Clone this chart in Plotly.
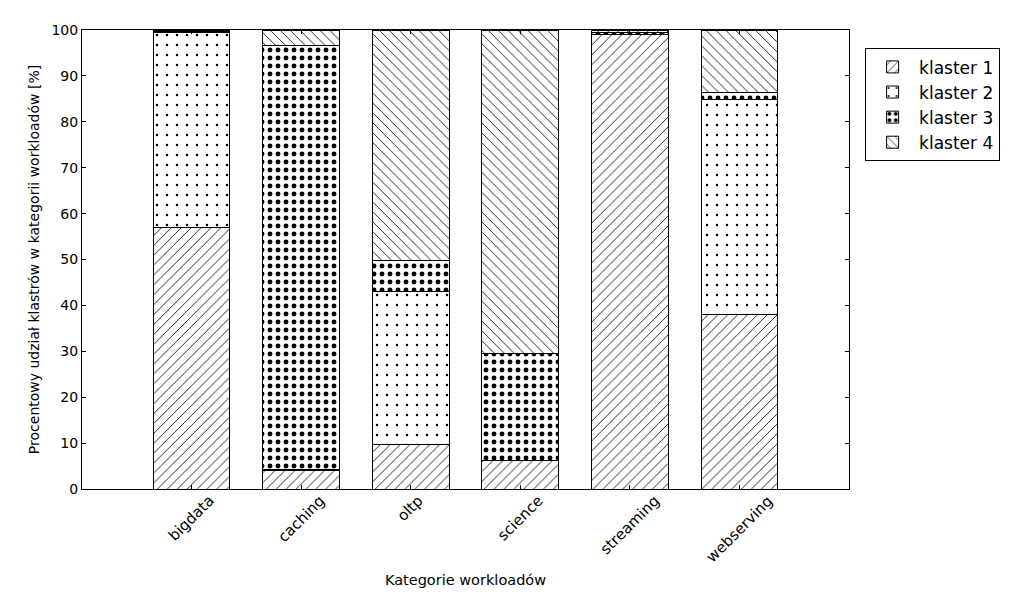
import plotly.graph_objects as go

# Data (percent share of each cluster per workload category)
categories = ['bigdata', 'caching', 'oltp', 'science', 'streaming', 'webserving']
klaster_1 = [57.0, 4.1, 9.8, 6.3, 99.1, 38.1]
klaster_2 = [42.4, 0.2, 33.2, 0.0, 0.0, 46.8]
klaster_3 = [0.2, 92.4, 6.7, 23.3, 0.3, 1.4]
klaster_4 = [0.4, 3.3, 50.3, 70.4, 0.6, 13.7]

series_names = ['klaster 1', 'klaster 2', 'klaster 3', 'klaster 4']
series_values = [klaster_1, klaster_2, klaster_3, klaster_4]

# hatch styles (shape, tile size, solidity) to mimic matplotlib hatches
patterns = [('/', 7, 0.12), ('.', 10, 0.05), ('.', 8, 0.3), ('\\', 7, 0.12)]

fig = go.Figure()
for name, vals, (shape, size, sol) in zip(series_names, series_values, patterns):
    fig.add_trace(go.Bar(
        x=categories,
        y=vals,
        name=name,
        width=0.7,
        marker=dict(
            color='white',
            line=dict(color='black', width=1),
            pattern=dict(shape=shape, size=size, solidity=sol,
                         fgcolor='black', bgcolor='white', fillmode='replace'),
        ),
    ))

# rotated category labels, centred on each tick like matplotlib does
for cat in categories:
    fig.add_annotation(x=cat, y=0.0, xref='x', yref='paper',
                       text=cat, showarrow=False, textangle=-45,
                       xanchor='center', yanchor='top',
                       font=dict(size=15, color='black'))

fig.update_layout(
    barmode='stack',
    width=1023,
    height=597,
    plot_bgcolor='white',
    paper_bgcolor='white',
    font=dict(family='DejaVu Sans', size=14, color='black'),
    margin=dict(l=74, r=182, t=22, b=116),
    legend=dict(
        x=1.021, y=0.96, xanchor='left', yanchor='top',
        bordercolor='black', borderwidth=1,
        font=dict(size=17), traceorder='normal',
        tracegroupgap=2, itemwidth=43,
    ),
    xaxis=dict(
        range=[-1, 6],
        showticklabels=False,
        ticks='inside', ticklen=4, tickcolor='black',
        showline=True, linecolor='black', linewidth=1, mirror='ticks',
        showgrid=False,
        title=dict(text='Kategorie workloadów', standoff=85, font=dict(size=14.5)),
    ),
    yaxis=dict(
        range=[0, 100],
        dtick=10,
        ticks='inside', ticklen=4, tickcolor='black',
        showline=True, linecolor='black', linewidth=1, mirror='ticks',
        showgrid=False, zeroline=False,
        tickfont=dict(size=14),
        title=dict(text='Procentowy udział klastrów w kategorii workloadów [%]',
                   standoff=8, font=dict(size=14)),
    ),
)

fig.write_html('out.html')
